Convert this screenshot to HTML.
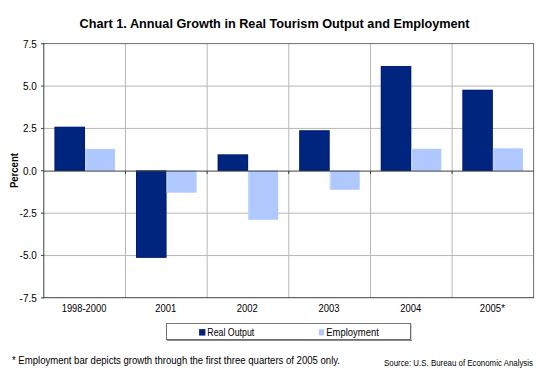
<!DOCTYPE html>
<html><head><meta charset="utf-8"><style>
html,body{margin:0;padding:0;background:#fff;width:550px;height:376px;overflow:hidden}
svg{display:block}
text{font-family:"Liberation Sans",sans-serif;fill:#000}
</style></head><body>
<svg width="550" height="376" viewBox="0 0 550 376">
<rect x="0" y="0" width="550" height="376" fill="#fff"/>
<rect x="43.80" y="85.57" width="490.00" height="1" fill="#B8B8B8"/>
<rect x="43.80" y="127.93" width="490.00" height="1" fill="#B8B8B8"/>
<rect x="43.80" y="212.67" width="490.00" height="1" fill="#B8B8B8"/>
<rect x="43.80" y="255.04" width="490.00" height="1" fill="#B8B8B8"/>
<rect x="124.97" y="43.70" width="1" height="254.20" fill="#B8B8B8"/>
<rect x="206.63" y="43.70" width="1" height="254.20" fill="#B8B8B8"/>
<rect x="288.30" y="43.70" width="1" height="254.20" fill="#B8B8B8"/>
<rect x="369.97" y="43.70" width="1" height="254.20" fill="#B8B8B8"/>
<rect x="451.64" y="43.70" width="1" height="254.20" fill="#B8B8B8"/>
<rect x="54.40" y="126.70" width="30.60" height="44.30" fill="#001C78"/>
<rect x="55.40" y="127.70" width="28.60" height="42.30" fill="#00257F"/>
<rect x="85.00" y="148.90" width="30.00" height="22.10" fill="#AFC9FF"/>
<rect x="85.40" y="148.90" width="1" height="22.10" fill="#C4D8FF"/>
<rect x="135.98" y="170.30" width="30.60" height="87.60" fill="#001C78"/>
<rect x="136.98" y="171.30" width="28.60" height="85.60" fill="#00257F"/>
<rect x="166.58" y="170.30" width="30.00" height="22.40" fill="#AFC9FF"/>
<rect x="166.98" y="170.30" width="1" height="22.40" fill="#C4D8FF"/>
<rect x="217.56" y="154.30" width="30.60" height="16.70" fill="#001C78"/>
<rect x="218.56" y="155.30" width="28.60" height="14.70" fill="#00257F"/>
<rect x="248.16" y="170.30" width="30.00" height="49.50" fill="#AFC9FF"/>
<rect x="248.56" y="170.30" width="1" height="49.50" fill="#C4D8FF"/>
<rect x="299.14" y="130.20" width="30.60" height="40.80" fill="#001C78"/>
<rect x="300.14" y="131.20" width="28.60" height="38.80" fill="#00257F"/>
<rect x="329.74" y="170.30" width="30.00" height="19.50" fill="#AFC9FF"/>
<rect x="330.14" y="170.30" width="1" height="19.50" fill="#C4D8FF"/>
<rect x="380.72" y="66.00" width="30.60" height="105.00" fill="#001C78"/>
<rect x="381.72" y="67.00" width="28.60" height="103.00" fill="#00257F"/>
<rect x="411.32" y="148.80" width="30.00" height="22.20" fill="#AFC9FF"/>
<rect x="411.72" y="148.80" width="1" height="22.20" fill="#C4D8FF"/>
<rect x="462.30" y="89.70" width="30.60" height="81.30" fill="#001C78"/>
<rect x="463.30" y="90.70" width="28.60" height="79.30" fill="#00257F"/>
<rect x="492.90" y="148.30" width="30.00" height="22.70" fill="#AFC9FF"/>
<rect x="493.30" y="148.30" width="1" height="22.70" fill="#C4D8FF"/>
<rect x="43" y="43.1" width="491" height="1" fill="#6C6C6C"/>
<rect x="533.1" y="43" width="1" height="255" fill="#6C6C6C"/>
<rect x="43" y="297.2" width="491" height="1" fill="#404040"/>
<rect x="43.3" y="43" width="1" height="255" fill="#404040"/>
<rect x="43" y="170.6" width="491" height="1" fill="#404040"/>
<rect x="41" y="43.20" width="2.80" height="1" fill="#404040"/>
<rect x="41" y="85.57" width="2.80" height="1" fill="#404040"/>
<rect x="41" y="127.93" width="2.80" height="1" fill="#404040"/>
<rect x="41" y="170.30" width="2.80" height="1" fill="#404040"/>
<rect x="41" y="212.67" width="2.80" height="1" fill="#404040"/>
<rect x="41" y="255.04" width="2.80" height="1" fill="#404040"/>
<rect x="41" y="297.40" width="2.80" height="1" fill="#404040"/>
<rect x="124.97" y="171" width="1" height="3" fill="#404040"/>
<rect x="206.63" y="171" width="1" height="3" fill="#404040"/>
<rect x="288.30" y="171" width="1" height="3" fill="#404040"/>
<rect x="369.97" y="171" width="1" height="3" fill="#404040"/>
<rect x="451.64" y="171" width="1" height="3" fill="#404040"/>
<text x="36.8" y="48" text-anchor="end" font-size="10">7.5</text>
<text x="36.8" y="90" text-anchor="end" font-size="10">5.0</text>
<text x="36.8" y="132" text-anchor="end" font-size="10">2.5</text>
<text x="36.8" y="175" text-anchor="end" font-size="10">0.0</text>
<text x="36.8" y="217" text-anchor="end" font-size="10">-2.5</text>
<text x="36.8" y="259" text-anchor="end" font-size="10">-5.0</text>
<text x="36.8" y="302" text-anchor="end" font-size="10">-7.5</text>
<text x="84.03" y="312" text-anchor="middle" font-size="10" textLength="44.6" lengthAdjust="spacingAndGlyphs">1998-2000</text>
<text x="165.70" y="312" text-anchor="middle" font-size="10" textLength="21" lengthAdjust="spacingAndGlyphs">2001</text>
<text x="247.37" y="312" text-anchor="middle" font-size="10" textLength="21" lengthAdjust="spacingAndGlyphs">2002</text>
<text x="329.03" y="312" text-anchor="middle" font-size="10" textLength="21" lengthAdjust="spacingAndGlyphs">2003</text>
<text x="410.70" y="312" text-anchor="middle" font-size="10" textLength="21" lengthAdjust="spacingAndGlyphs">2004</text>
<text x="492.37" y="312" text-anchor="middle" font-size="10" textLength="25" lengthAdjust="spacingAndGlyphs">2005*</text>
<text x="79.6" y="28.45" font-size="12.7" font-weight="bold" textLength="390" lengthAdjust="spacingAndGlyphs">Chart 1. Annual Growth in Real Tourism Output and Employment</text>
<text transform="translate(17.6,170.6) rotate(-90)" text-anchor="middle" font-size="10" font-weight="bold" textLength="35" lengthAdjust="spacingAndGlyphs">Percent</text>
<rect x="166" y="323" width="245" height="1" fill="#7A7A7A" shape-rendering="crispEdges"/>
<rect x="166" y="323" width="1" height="17" fill="#6E6E6E" shape-rendering="crispEdges"/>
<rect x="410" y="323" width="1" height="17" fill="#6E6E6E" shape-rendering="crispEdges"/>
<rect x="411" y="324" width="1" height="17" fill="#D4D4D4" shape-rendering="crispEdges"/>
<rect x="166" y="339" width="245" height="1" fill="#6E6E6E" shape-rendering="crispEdges"/>
<rect x="167" y="340" width="245" height="1" fill="#8A8A8A" shape-rendering="crispEdges"/>
<rect x="199.1" y="329.1" width="6.3" height="6.5" fill="#00257F"/>
<text x="207.3" y="335.5" font-size="10" textLength="47" lengthAdjust="spacingAndGlyphs">Real Output</text>
<rect x="318.9" y="329.3" width="5.2" height="6.1" fill="#AFC9FF"/>
<text x="326.3" y="335.5" font-size="10" textLength="52.5" lengthAdjust="spacingAndGlyphs">Employment</text>
<text x="12" y="364" font-size="10" textLength="328" lengthAdjust="spacingAndGlyphs">* Employment bar depicts growth through the first three quarters of 2005 only.</text>
<text x="384" y="365.7" font-size="8.5" textLength="149" lengthAdjust="spacingAndGlyphs">Source: U.S. Bureau of Economic Analysis</text>
</svg>
</body></html>
